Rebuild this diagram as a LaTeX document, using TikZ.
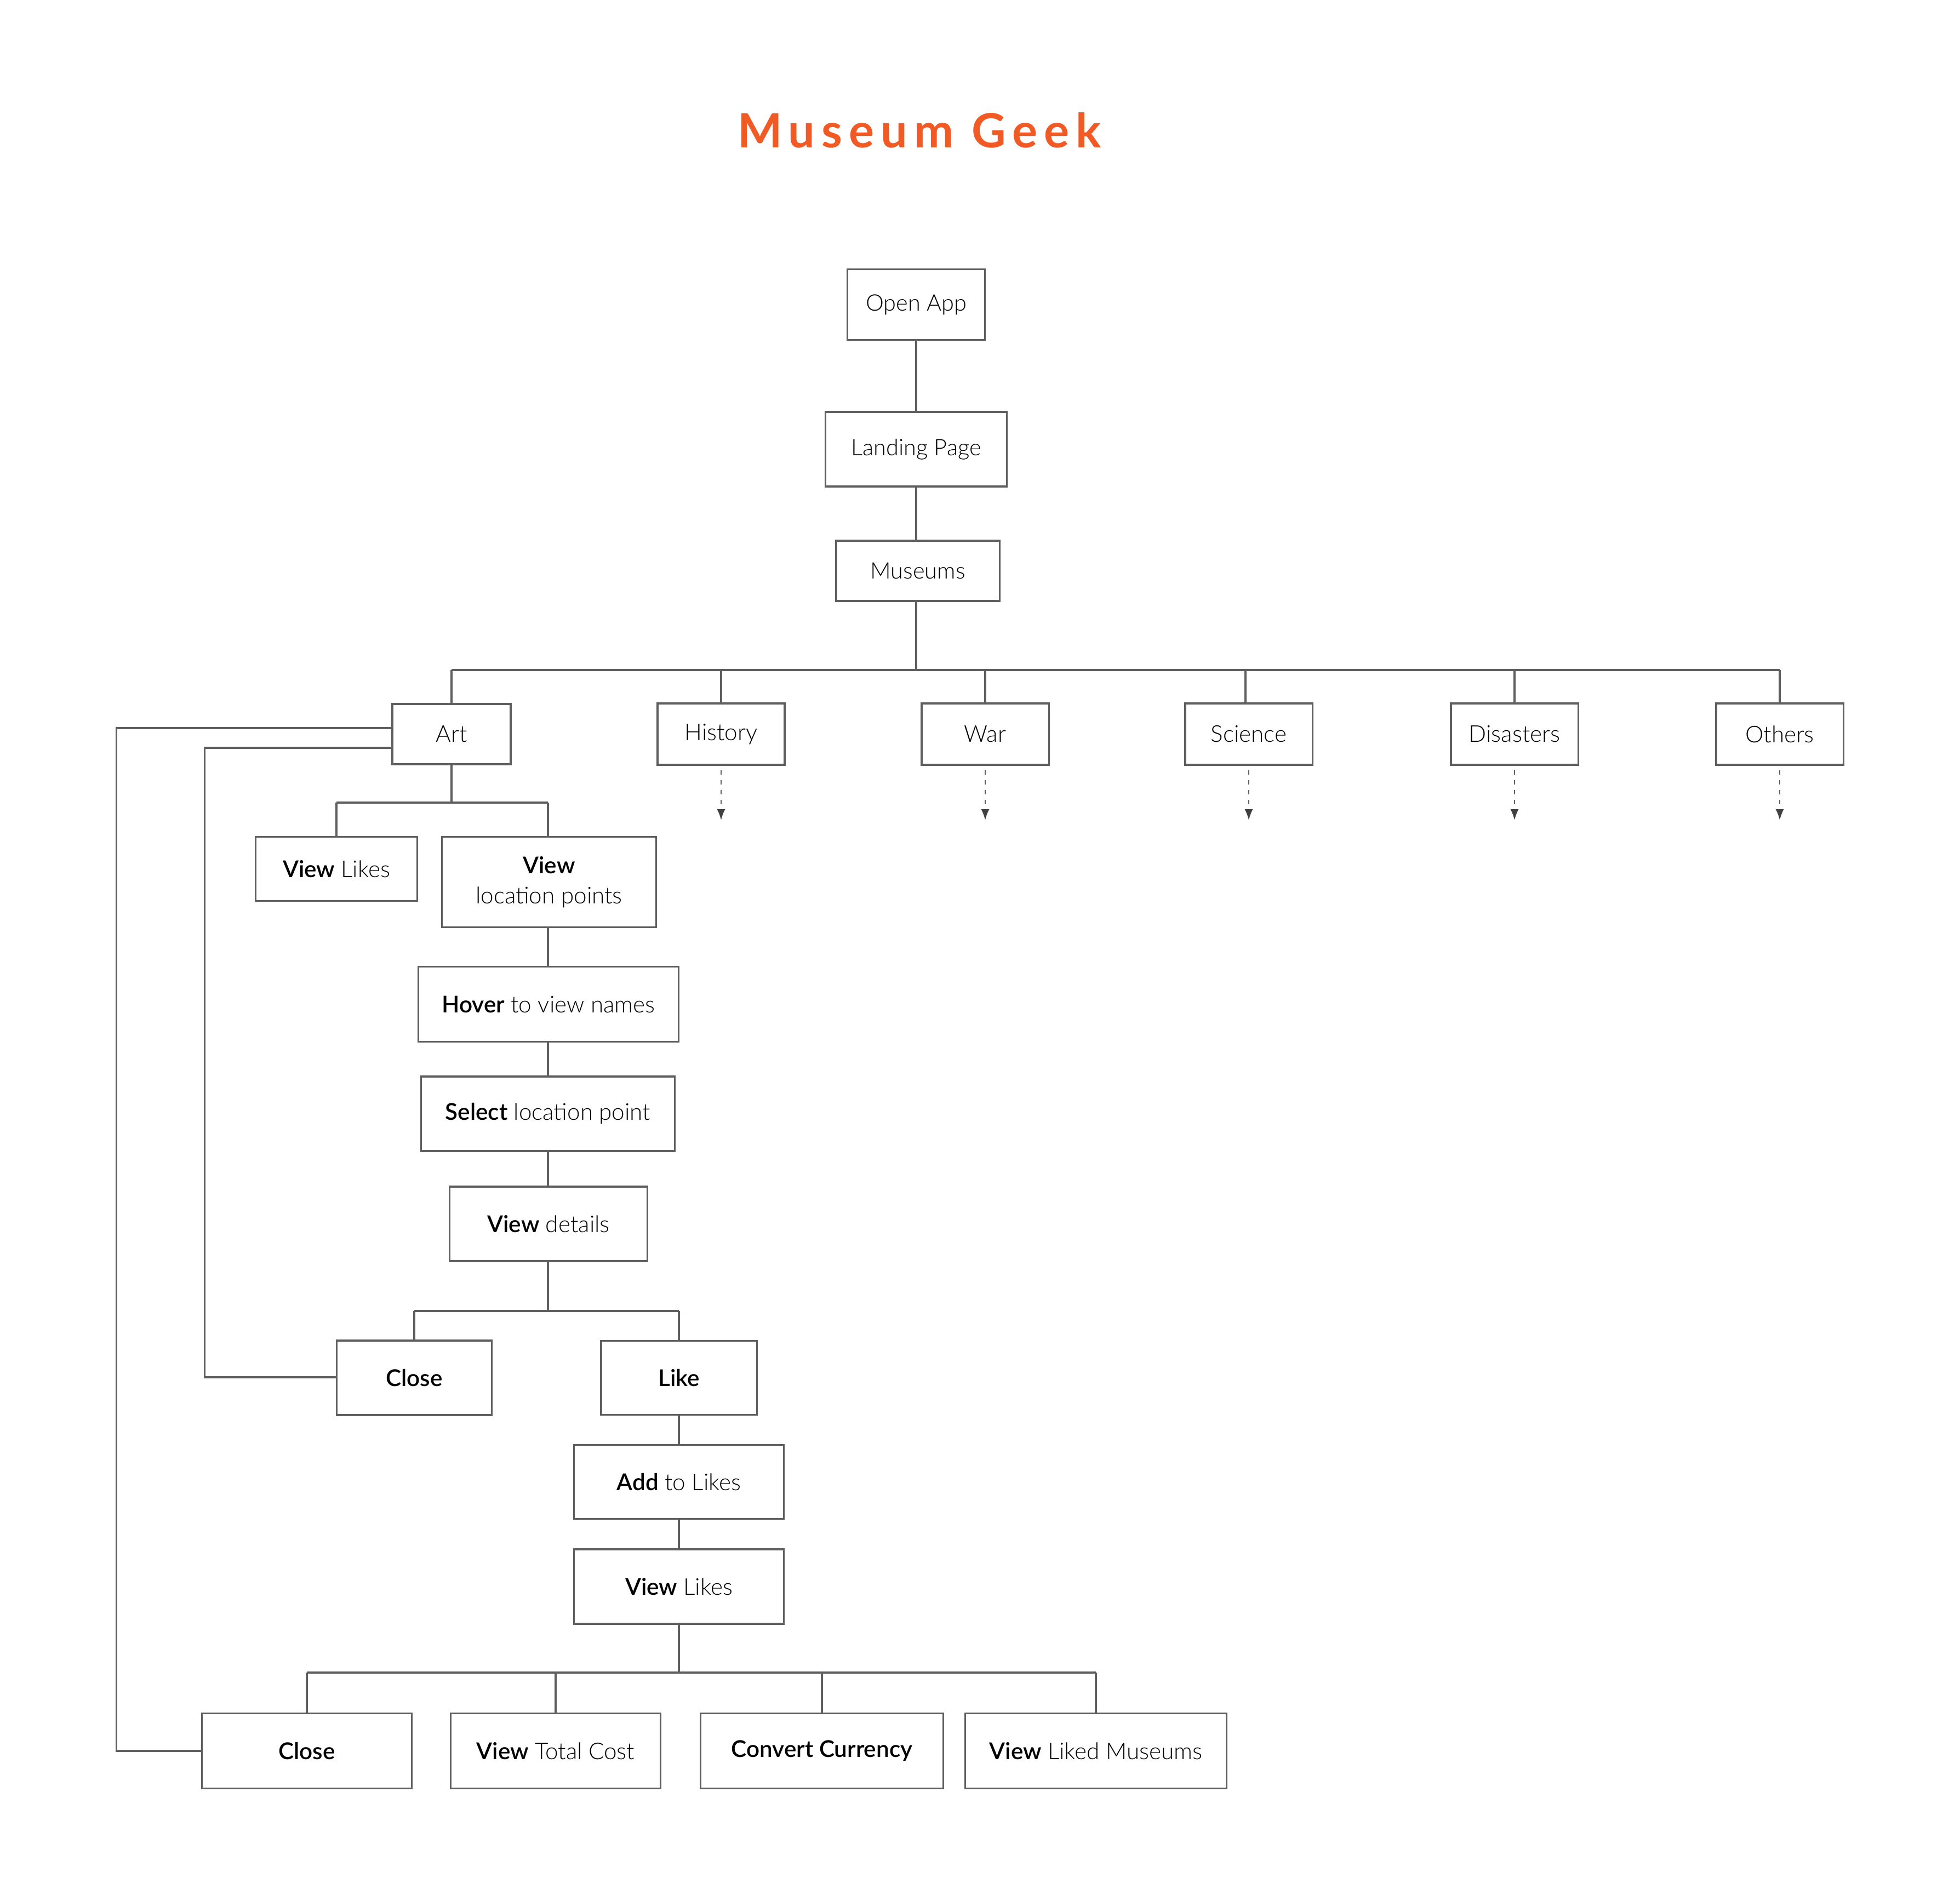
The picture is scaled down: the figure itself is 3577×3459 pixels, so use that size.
\documentclass[tikz,border=0pt]{standalone}
\usepackage{fontspec}
\setmainfont{Lato}[UprightFont={* Light}, BoldFont={* Semibold}]
\newfontfamily\titlefont{Lato}[LetterSpace=14]
\usetikzlibrary{arrows.meta,calc}
\definecolor{linec}{RGB}{95,95,95}
\definecolor{dashc}{RGB}{95,95,95}
\definecolor{tipc}{RGB}{65,65,65}
\definecolor{titlec}{RGB}{241,90,36}
\tikzset{
  box/.style={draw=linec, line width=0.9pt, inner sep=0pt, outer sep=0pt, align=center,
    text=black, font=\fontsize{12}{17}\selectfont, minimum height=1.36cm},
  conn/.style={draw=linec, line width=0.9pt},
  more/.style={draw=dashc, line width=0.6pt, dash pattern=on 0.08cm off 0.10cm, dash phase=0.08cm,
    -{Latex[length=0.2cm, width=0.15cm, fill=tipc, color=tipc]}},
}
\begin{document}
\begin{tikzpicture}[x=0.01cm, y=-0.01cm]
\useasboundingbox (0,0) rectangle (3577,3459);

% title
\node[anchor=base, text=titlec, font=\titlefont\fontsize{24.5}{28}\selectfont\bfseries] (title) at (1678,269) {Museum Geek};

% top chain
\node[box, minimum width=2.51cm, minimum height=1.29cm, font=\fontsize{11.8}{14}\selectfont] (open) at (1672,556) {Open App};
\node[box, minimum width=3.30cm, minimum height=1.36cm, font=\fontsize{11.8}{14}\selectfont] (land) at (1672,820) {Landing Page};
\node[box, minimum width=2.98cm, minimum height=1.10cm, font=\fontsize{11.8}{14}\selectfont] (mus) at (1675,1042) {Museums};

% categories
\node[box, minimum width=2.16cm, minimum height=1.10cm] (art) at (824,1340) {Art};
\node[box, minimum width=2.32cm, minimum height=1.12cm] (hist) at (1316,1340) {History};
\node[box, minimum width=2.32cm, minimum height=1.12cm] (war) at (1798,1340) {War};
\node[box, minimum width=2.32cm, minimum height=1.12cm] (sci) at (2279,1340) {Science};
\node[box, minimum width=2.32cm, minimum height=1.12cm] (dis) at (2764,1340) {Disasters};
\node[box, minimum width=2.32cm, minimum height=1.12cm] (oth) at (3248,1340) {Others};

% art branch
\node[box, minimum width=2.95cm, minimum height=1.17cm] (vlk) at (614,1586) {\textbf{View} Likes};
\node[box, minimum width=3.90cm, minimum height=1.65cm, font=\fontsize{12}{15.5}\selectfont] (vloc) at (1002,1610) {\textbf{View}\\location points};
\node[box, minimum width=4.75cm, minimum height=1.37cm] (hover) at (1001,1833) {\textbf{Hover} to view names};
\node[box, minimum width=4.62cm, minimum height=1.36cm] (sel) at (1000,2033) {\textbf{Select} location point};
\node[box, minimum width=3.61cm, minimum height=1.36cm] (det) at (1001,2234) {\textbf{View} details};

\node[box, minimum width=2.83cm, minimum height=1.36cm] (closea) at (756,2515) {\textbf{Close}};
\node[box, minimum width=2.84cm, minimum height=1.35cm] (like) at (1239,2515) {\textbf{Like}};
\node[box, minimum width=3.82cm, minimum height=1.35cm] (add) at (1239,2705) {\textbf{Add} to Likes};
\node[box, minimum width=3.82cm, minimum height=1.36cm] (vlk2) at (1239,2896) {\textbf{View} Likes};

\node[box, minimum width=3.82cm, minimum height=1.37cm] (closeb) at (560,3196) {\textbf{Close}};
\node[box, minimum width=3.83cm, minimum height=1.37cm] (cost) at (1014,3196) {\textbf{View} Total Cost};
\node[box, minimum width=4.43cm, minimum height=1.37cm] (conv) at (1500,3196) {\textbf{Convert Currency}};
\node[box, minimum width=4.77cm, minimum height=1.37cm] (liked) at (2000,3196) {\textbf{View} Liked Museums};

% bus coordinates
\coordinate (bus) at (1672,1223);
\coordinate (abus) at (1000,1465);
\coordinate (dbus) at (1000,2393);
\coordinate (bbus) at (1239,3053);

% top chain connectors
\draw[conn] (open.south) -- (land.north);
\draw[conn] (land.south) -- (land.south |- mus.north);
\draw[conn] (land.south |- mus.south) -- (bus);

% category bus
\draw[conn] (art.north |- bus) -- (oth.north |- bus);
\foreach \n in {art,hist,war,dis,oth}{
  \draw[conn] (\n.north) -- (\n.north |- bus);
}
\draw[conn] ($(sci.north)+(-6,0)$) -- ($(sci.north |- bus)+(-6,0)$);

% dashed continuations
\foreach \n in {hist,war,sci,dis,oth}{
  \coordinate (\n-end) at ($(\n.south)+(0,101)$);
  \draw[more] (\n.south) -- (\n-end);
}

% art branch
\draw[conn] (art.south) -- (art.south |- abus);
\draw[conn] (vlk.north |- abus) -- (abus);
\draw[conn] (vlk.north |- abus) -- (vlk.north);
\draw[conn] (abus) -- (abus |- vloc.north);
\draw[conn] (abus |- vloc.south) -- (abus |- hover.north);
\draw[conn] (abus |- hover.south) -- (abus |- sel.north);
\draw[conn] (abus |- sel.south) -- (abus |- det.north);
\draw[conn] (abus |- det.south) -- (dbus);
\draw[conn] (closea.north |- dbus) -- (like.north |- dbus);
\draw[conn] (closea.north |- dbus) -- (closea.north);
\draw[conn] (like.north |- dbus) -- (like.north);
\draw[conn] (like.south) -- (add.north);
\draw[conn] (add.south) -- (vlk2.north);
\draw[conn] (vlk2.south) -- (bbus);
\draw[conn] (closeb.north |- bbus) -- (liked.north |- bbus);
\foreach \n in {closeb,cost,conv,liked}{
  \draw[conn] (\n.north |- bbus) -- (\n.north);
}

% return loops to Art
\draw[conn] ($(art.west)+(0,-11)$) -| ($(closeb.west)+(-156,0)$) -- (closeb.west);
\draw[conn] ($(art.west)+(0,25)$) -| ($(closea.west)+(-241,-1)$) -- ($(closea.west)+(0,-1)$);
\end{tikzpicture}
\end{document}
